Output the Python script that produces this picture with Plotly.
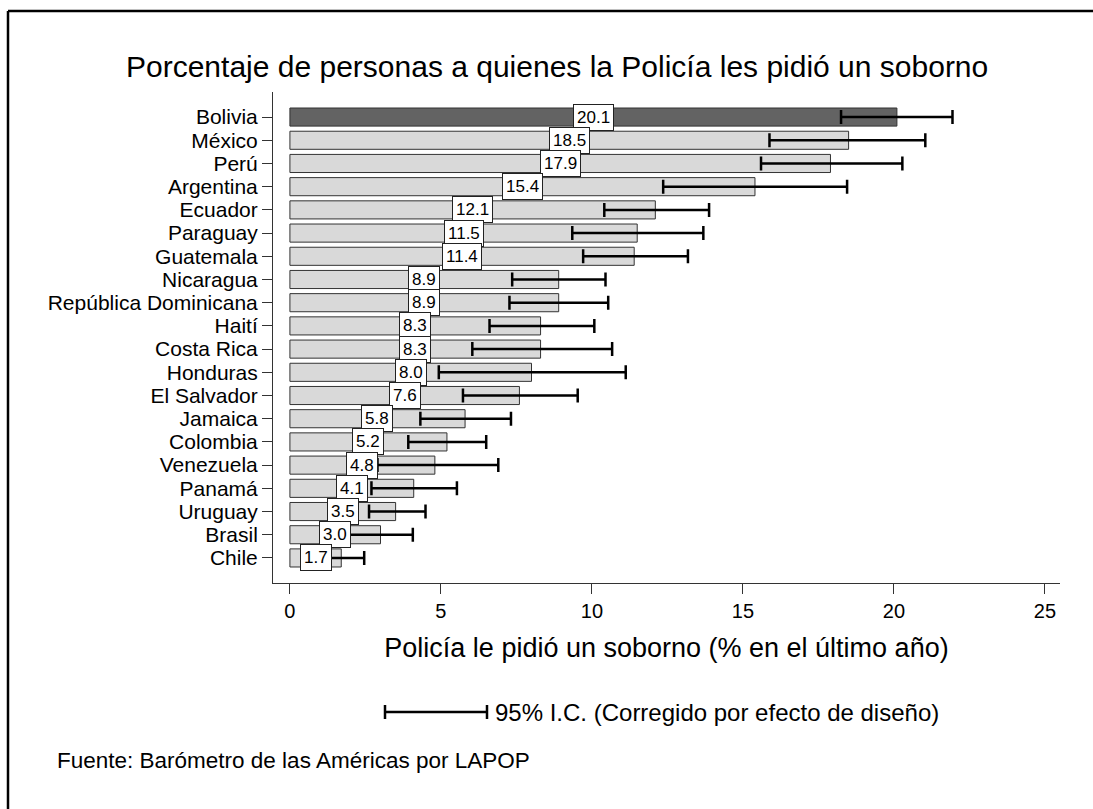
import plotly.graph_objects as go

countries = ["Bolivia", "México", "Perú", "Argentina", "Ecuador", "Paraguay", "Guatemala",
             "Nicaragua", "República Dominicana", "Haití", "Costa Rica", "Honduras",
             "El Salvador", "Jamaica", "Colombia", "Venezuela", "Panamá", "Uruguay",
             "Brasil", "Chile"]
values = [20.1, 18.5, 17.9, 15.4, 12.1, 11.5, 11.4, 8.9, 8.9, 8.3, 8.3, 8.0, 7.6,
          5.8, 5.2, 4.8, 4.1, 3.5, 3.0, 1.7]
ci_low = [18.25, 15.88, 15.6, 12.36, 10.41, 9.35, 9.71, 7.36, 7.27, 6.61, 6.04, 4.93,
          5.73, 4.32, 3.92, 2.9, 2.7, 2.62, 1.9, 0.9]
ci_high = [21.94, 21.04, 20.28, 18.45, 13.88, 13.69, 13.18, 10.45, 10.54, 10.08, 10.67,
           11.12, 9.53, 7.32, 6.5, 6.9, 5.53, 4.49, 4.07, 2.46]
x_ticks = [0, 5, 10, 15, 20, 25]

W, H = 1093, 809
L, R, T, B = 273, 33, 92, 226
pw, ph = W - L - R, H - T - B


def px(xp):
    return (xp - L) / pw


def py(yp):
    return (H - B - yp) / ph


idx = list(range(len(countries)))
colors = ["#636363"] + ["#d9d9d9"] * (len(countries) - 1)

fig = go.Figure()
fig.add_trace(go.Bar(
    x=values, y=idx, orientation="h",
    marker=dict(color=colors, line=dict(color="#333333", width=1)),
    error_x=dict(type="data", symmetric=False,
                 array=[h - v for h, v in zip(ci_high, values)],
                 arrayminus=[v - l for l, v in zip(ci_low, values)],
                 color="black", thickness=2.5, width=7),
    width=0.78, showlegend=False, hoverinfo="skip",
))

font = "Liberation Sans, Arial, sans-serif"
annotations = []
for i, v in enumerate(values):
    annotations.append(dict(x=v / 2, y=i, xref="x", yref="y", text=f"{v:.1f}",
                            showarrow=False, bgcolor="white", bordercolor="#222222",
                            borderwidth=1, borderpad=3,
                            font=dict(family=font, size=17, color="black")))

annotations += [
    dict(x=px(557), y=py(67), xref="paper", yref="paper",
         text="Porcentaje de personas a quienes la Policía les pidió un soborno",
         showarrow=False, font=dict(family=font, size=30, color="black"),
         xanchor="center", yanchor="middle"),
    dict(x=px(493), y=py(712), xref="paper", yref="paper",
         text="95% I.C. (Corregido por efecto de diseño)", showarrow=False,
         font=dict(family=font, size=24, color="black"), xanchor="left", yanchor="middle"),
    dict(x=px(55), y=py(760), xref="paper", yref="paper",
         text="Fuente: Barómetro de las Américas por LAPOP", showarrow=False,
         font=dict(family=font, size=22.5, color="black"), xanchor="left", yanchor="middle"),
]

shapes = [
    # outer frame (left and top edges)
    dict(type="line", xref="paper", yref="paper", x0=px(8), y0=py(11), x1=px(1100), y1=py(11),
         line=dict(color="black", width=2.5)),
    dict(type="line", xref="paper", yref="paper", x0=px(8), y0=py(11), x1=px(8), y1=py(820),
         line=dict(color="black", width=2.5)),
    # legend key
    dict(type="line", xref="paper", yref="paper", x0=px(385), y0=py(712), x1=px(487), y1=py(712),
         line=dict(color="black", width=2.5)),
    dict(type="line", xref="paper", yref="paper", x0=px(385), y0=py(705), x1=px(385), y1=py(719),
         line=dict(color="black", width=2.5)),
    dict(type="line", xref="paper", yref="paper", x0=px(487), y0=py(705), x1=px(487), y1=py(719),
         line=dict(color="black", width=2.5)),
]

fig.update_layout(
    width=W, height=H,
    margin=dict(l=L, r=R, t=T, b=B),
    paper_bgcolor="white", plot_bgcolor="white",
    annotations=annotations, shapes=shapes,
    font=dict(family=font, color="black"),
    xaxis=dict(range=[-0.56, 25.5], tickvals=x_ticks, ticks="outside", ticklen=10,
               tickcolor="#333333", showline=True, linecolor="#333333", linewidth=1,
               showgrid=False, zeroline=False, tickfont=dict(size=20, family=font),
               title=dict(text="Policía le pidió un soborno (% en el último año)",
                          font=dict(size=27, family=font), standoff=17)),
    yaxis=dict(range=[len(countries) - 1 + 1.08, -1.08], tickvals=idx, ticktext=countries,
               ticks="outside", ticklen=10, tickcolor="#333333", showline=True,
               linecolor="#333333", linewidth=1, showgrid=False, zeroline=False,
               tickfont=dict(size=21, family=font)),
)

fig.write_html("out.html", config={"displayModeBar": False},
               post_script="document.body.style.margin='0';document.body.style.overflow='hidden';")
